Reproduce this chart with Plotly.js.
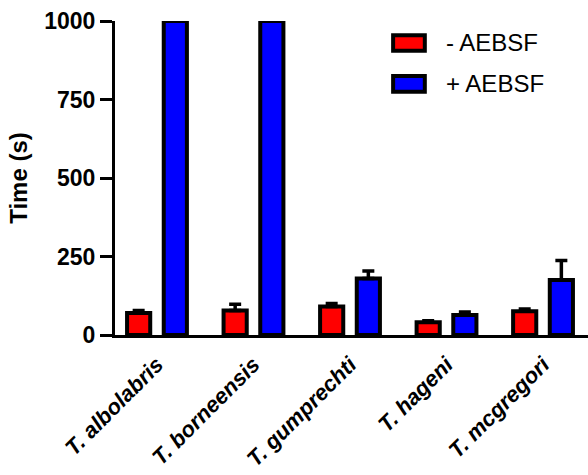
<!DOCTYPE html>
<html>
<head>
<meta charset="utf-8">
<script src="https://cdn.plot.ly/plotly-3.0.1.min.js"></script>
<style>html,body{margin:0;padding:0;background:#fff;}#chart{width:588px;height:475px;}</style>
</head>
<body>
<div id="chart"></div>
<script>
const species = ["T. albolabris", "T. borneensis", "T. gumprechti", "T. hageni", "T. mcgregori"];
const seriesNames = ["- AEBSF", "+ AEBSF"];
const minusAEBSF = [70, 78, 91, 41, 76];
const minusErr = [8, 20, 9, 4, 7];
const plusAEBSF = [1000, 1000, 180, 64, 175];
const plusErr = [0, 0, 24, 9, 62];
const zeros = [0, 0, 0, 0, 0];
const yTicks = [0, 250, 500, 750, 1000];
const colors = ["#ff0000", "#0000ff"];

const labels = species.map(s => "<b><i>" + s + "</i></b>");
const idx = species.map((s, i) => i);

function barTrace(name, y, err, color, offset) {
  return {
    type: "bar", name: name, x: idx, y: y,
    width: 0.24, offset: offset,
    marker: {color: color, line: {color: "#000", width: 4}},
    error_y: {type: "data", symmetric: false, array: err, arrayminus: zeros, color: "#000", thickness: 3.5, width: 6},
    cliponaxis: false, showlegend: false
  };
}

const traces = [
  barTrace(seriesNames[0], minusAEBSF, minusErr, colors[0], -0.31),
  barTrace(seriesNames[1], plusAEBSF, plusErr, colors[1], 0.07)
];

// custom legend (paper coordinates)
const legX0 = 0.588, legX1 = 0.655, legTextX = 0.695;
const legRowsY = [0.930, 0.800];
const legH = 0.05;
const shapes = legRowsY.map((yc, i) => ({
  type: "rect", xref: "paper", yref: "paper",
  x0: legX0, x1: legX1, y0: yc - legH / 2, y1: yc + legH / 2,
  fillcolor: colors[i], line: {color: "#000", width: 4}
}));
const annotations = legRowsY.map((yc, i) => ({
  xref: "paper", yref: "paper", x: legTextX, y: yc,
  xanchor: "left", yanchor: "middle", showarrow: false,
  text: seriesNames[i], font: {size: 24, color: "#000"}
}));

const layout = {
  width: 588, height: 475,
  margin: {l: 115, r: 0, t: 21, b: 140},
  paper_bgcolor: "#fff", plot_bgcolor: "#fff",
  font: {family: "Liberation Sans, Arial, sans-serif", color: "#000"},
  showlegend: false,
  shapes: shapes,
  annotations: annotations,
  xaxis: {
    tickmode: "array", tickvals: idx, ticktext: labels,
    range: [-0.435, 4.466], tickangle: -45,
    tickfont: {size: 22},
    ticks: "outside", ticklen: 5, tickcolor: "rgba(0,0,0,0)",
    showline: true, linecolor: "#000", linewidth: 3,
    showgrid: false, zeroline: false, fixedrange: true
  },
  yaxis: {
    range: [0, 1000], tickvals: yTicks,
    ticktext: yTicks.map(v => "<b>" + v + "</b>"),
    tickfont: {size: 23},
    ticks: "outside", ticklen: 12, tickwidth: 3, tickcolor: "#000",
    showline: true, linecolor: "#000", linewidth: 3,
    showgrid: false, zeroline: false,
    title: {text: "<b>Time (s)</b>", font: {size: 24}, standoff: 10}
  }
};

Plotly.newPlot("chart", traces, layout, {displayModeBar: false, staticPlot: true});
</script>
</body>
</html>
